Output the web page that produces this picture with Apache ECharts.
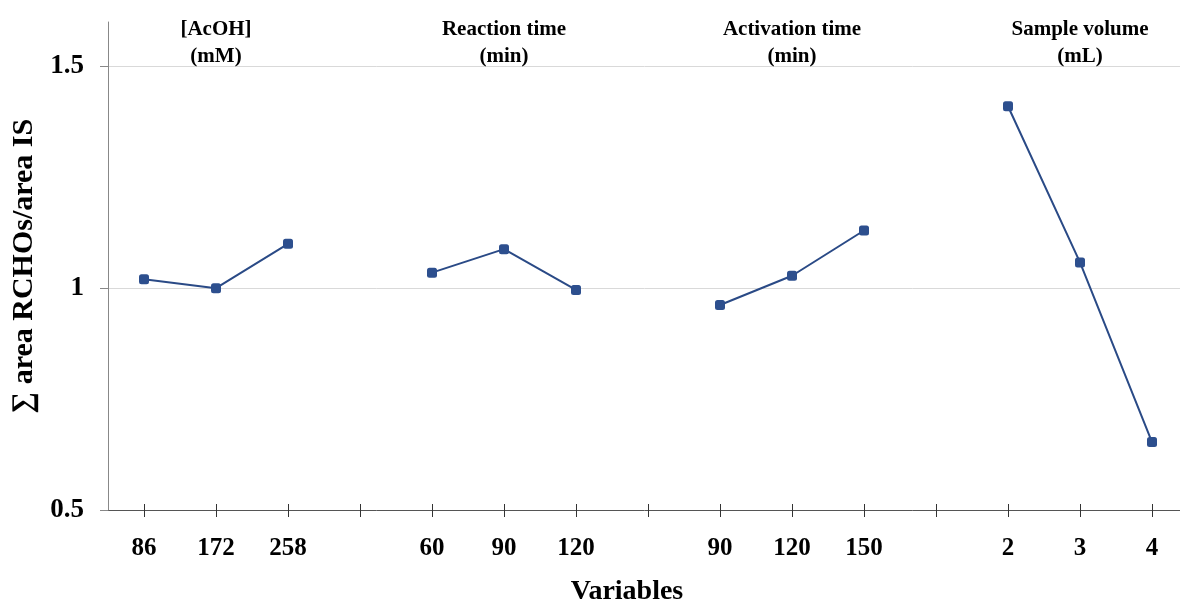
<!DOCTYPE html>
<html>
<head>
<meta charset="utf-8">
<script src="https://cdn.jsdelivr.net/npm/echarts@6/dist/echarts.min.js"></script>
<style>
  html, body { margin: 0; padding: 0; background: #fff; }
  #main { width: 1180px; height: 601px; }
</style>
</head>
<body>
<div id="main"></div>
<script>
// x categories, blank slots separate the four variable groups
const categories = ['86', '172', '258', '', '60', '90', '120', '', '90', '120', '150', '', '2', '3', '4'];
const responseValues = [1.02, 1.00, 1.10, null, 1.035, 1.088, 0.996, null, 0.962, 1.028, 1.13, null, 1.41, 1.058, 0.653];
// group headings, placed over the middle level of each group
const groupTitles = ['', '[AcOH]\n(mM)', '', '', '', 'Reaction time\n(min)', '', '', '', 'Activation time\n(min)', '', '', '', 'Sample volume\n(mL)', ''];
const yTicks = [0.5, 1, 1.5];

const serif = '"Liberation Serif", "Times New Roman", serif';
const myChart = echarts.init(document.getElementById('main'));

const option = {
  animation: false,
  grid: { left: 108, top: 22, width: 1080, bottom: 91, outerBoundsMode: 'none', containLabel: false },
  xAxis: [
    {
      type: 'category',
      data: categories,
      position: 'bottom',
      // shifted up so the ticks cross the baseline (baseline drawn by the 0.5 split line)
      offset: -6,
      name: 'Variables',
      nameLocation: 'middle',
      nameGap: 74,
      nameTextStyle: { fontFamily: serif, fontWeight: 'bold', fontSize: 28, color: '#000', padding: [0, 42, 0, 0] },
      axisLine: { show: false },
      axisTick: { show: true, alignWithLabel: true, length: 13, lineStyle: { color: '#333' } },
      axisLabel: { interval: 0, margin: 32, fontFamily: serif, fontWeight: 'bold', fontSize: 25, color: '#000' },
      splitLine: { show: false }
    },
    {
      type: 'category',
      data: groupTitles,
      position: 'top',
      axisLine: { show: false },
      axisTick: { show: false },
      axisLabel: { interval: 0, inside: true, margin: -6, fontFamily: serif, fontWeight: 'bold', fontSize: 21, lineHeight: 27, color: '#000' },
      splitLine: { show: false }
    }
  ],
  yAxis: {
    type: 'value',
    min: 0.5,
    max: 1.6,
    name: '\u2211 area RCHOs/area IS',
    nameLocation: 'middle',
    nameGap: 66,
    nameRotate: 90,
    nameTextStyle: { fontFamily: serif, fontWeight: 'bold', fontSize: 30, color: '#000' },
    axisLine: { show: true, lineStyle: { color: '#888' } },
    axisTick: { show: true, length: 8, customValues: yTicks, lineStyle: { color: '#888' } },
    axisLabel: {
      customValues: yTicks,
      margin: 24,
      padding: [4, 0, 0, 0],
      fontFamily: serif, fontWeight: 'bold', fontSize: 27, color: '#000',
      formatter: function (v) { return String(v); }
    },
    splitLine: { show: true, lineStyle: { color: ['#555', '#d9d9d9', '#d9d9d9'], width: 1 } }
  },
  series: [{
    type: 'line',
    data: responseValues,
    connectNulls: false,
    symbol: 'roundRect',
    symbolSize: 10,
    itemStyle: { color: '#2d4f8e' },
    lineStyle: { color: '#2a4a86', width: 2 }
  }]
};
myChart.setOption(option);
</script>
</body>
</html>
